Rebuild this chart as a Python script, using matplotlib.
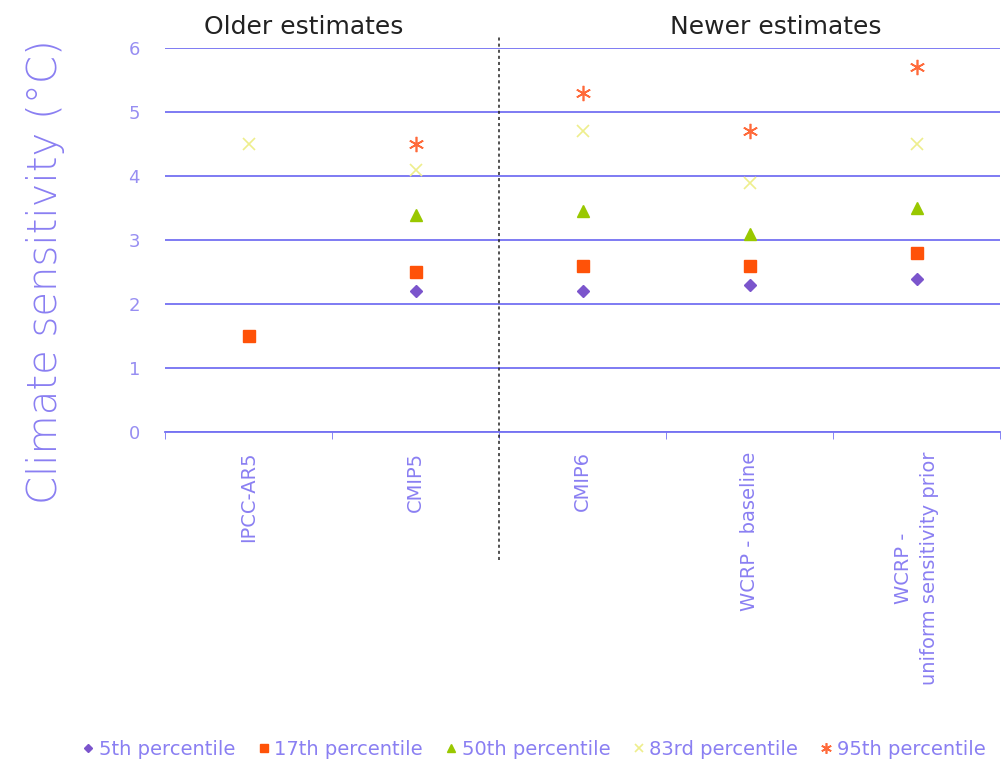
import numpy as np
import matplotlib
matplotlib.use("Agg")
import matplotlib.pyplot as plt
import matplotlib.transforms as mtransforms

# data
categories = ["IPCC-AR5", "CMIP5", "CMIP6", "WCRP - baseline",
              "WCRP -\nuniform sensitivity prior"]
p5 = [np.nan, 2.2, 2.2, 2.3, 2.4]
p17 = [1.5, 2.5, 2.6, 2.6, 2.8]
p50 = [np.nan, 3.4, 3.45, 3.1, 3.5]
p83 = [4.5, 4.1, 4.7, 3.9, 4.5]
p95 = [np.nan, 4.5, 5.3, 4.7, 5.7]
yticks = [0, 1, 2, 3, 4, 5, 6]

blue = "#7471f2"
text_blue = "#8a7ff2"
plt.rcParams['font.family'] = ['DejaVu Sans']

fig = plt.figure(figsize=(10.08, 7.66), dpi=100)
ax = fig.add_axes([0.1637, 0.436, 0.8284, 0.501])

x = np.arange(len(categories))
ax.plot(x, p5, linestyle="none", marker="D", ms=6, color="#7b55cc", label="5th percentile")
ax.plot(x, p17, linestyle="none", marker="s", ms=8.5, color="#ff5208", label="17th percentile")
ax.plot(x, p50, linestyle="none", marker="^", ms=8.5, color="#99c800", label="50th percentile")
ax.plot(x, p83, linestyle="none", marker="x", ms=9, mew=1.2, color="#eeee8c", label="83rd percentile")
ax.plot(x, p95, linestyle="none", marker=(6, 2, 0), ms=11, mew=1.2, color="#ff6a3a", label="95th percentile")

ax.set_xlim(-0.5, len(categories) - 0.5)
ax.set_ylim(0, 6)
ax.set_yticks(yticks)
ax.yaxis.grid(True, color=blue, linewidth=1.3)
ax.set_axisbelow(True)
for s in ["left", "right", "top"]:
    ax.spines[s].set_visible(False)
ax.spines["bottom"].set_color(blue)
ax.spines["bottom"].set_linewidth(1.3)

ax.tick_params(axis="y", length=0, pad=18, labelsize=13, labelcolor="#978ef2")
ax.set_xticks(x)
ax.set_xticklabels(categories, rotation=90, va="top", ha="center",
                   multialignment="center", fontsize=14, color=text_blue,
                   linespacing=1.45)
ax.tick_params(axis="x", which="major", length=0, pad=14)
ax.set_xticks(np.arange(-0.5, len(categories), 1), minor=True)
ax.tick_params(axis="x", which="minor", length=5, color=blue, direction="out")

# axis title, placed by hand (it sits a bit below the axes centre)
fig.text(0.045, 0.645, "Climate sensitivity (°C)", rotation=90, ha="center", va="center",
         fontsize=29, color="#8a7ff2", fontweight="light")

# divider between older and newer estimates
trans = mtransforms.blended_transform_factory(ax.transData, ax.transAxes)
ax.plot([1.5, 1.5], [-0.333, 1.034], transform=trans, color="#222222",
        linestyle=(0, (2, 2)), linewidth=1.1, clip_on=False)

ax.text(0.33, 1.055, "Older estimates", transform=trans, ha="center", va="center",
        fontsize=18, color="#222222")
ax.text(3.16, 1.055, "Newer estimates", transform=trans, ha="center", va="center",
        fontsize=18, color="#222222")

leg = fig.legend(loc="lower center", bbox_to_anchor=(0.528, -0.014), ncol=5, frameon=False,
                 fontsize=14, handletextpad=0.05, columnspacing=0.95, handlelength=1.0,
                 markerscale=0.7)
for t in leg.get_texts():
    t.set_color(text_blue)

fig.savefig("out.png", dpi=100)
